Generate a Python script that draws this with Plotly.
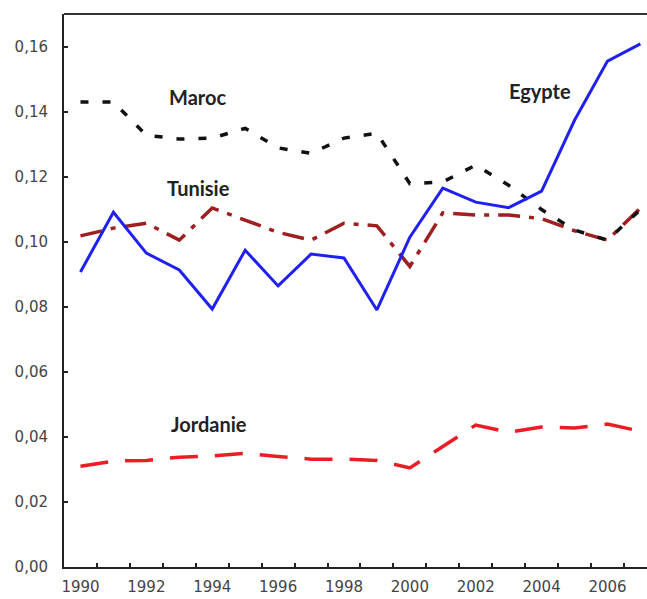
import plotly.graph_objects as go

years = list(range(1990, 2008))
egypte = [0.0908, 0.1092, 0.0966, 0.0914, 0.0794, 0.0975, 0.0865, 0.0963, 0.0951, 0.0791,
          0.1015, 0.1166, 0.1123, 0.1106, 0.1157, 0.1375, 0.1557, 0.1610]
maroc = [0.1431, 0.1431, 0.1329, 0.1317, 0.1320, 0.1350, 0.1290, 0.1273, 0.1320, 0.1335,
         0.1180, 0.1185, 0.1237, 0.1175, 0.1100, 0.1037, 0.1006, 0.1100]
tunisie = [0.1019, 0.1043, 0.1058, 0.1006, 0.1105, 0.1068, 0.1030, 0.1006, 0.1058, 0.1050,
           0.0925, 0.1090, 0.1083, 0.1083, 0.1072, 0.1035, 0.1006, 0.1105]
jordanie = [0.0310, 0.0326, 0.0328, 0.0338, 0.0342, 0.0350, 0.0340, 0.0332, 0.0332, 0.0328,
            0.0305, 0.0370, 0.0437, 0.0415, 0.0431, 0.0428, 0.0440, 0.0418]
y_ticks = [0.00, 0.02, 0.04, 0.06, 0.08, 0.10, 0.12, 0.14, 0.16]
x_ticks = list(range(1990, 2007, 2))

fig = go.Figure()
fig.add_trace(go.Scatter(x=years, y=jordanie, mode="lines", name="Jordanie",
                         line=dict(color="#ec1c24", width=3.5, dash="28px,17px")))
fig.add_trace(go.Scatter(x=years, y=tunisie, mode="lines", name="Tunisie",
                         line=dict(color="#9e1f1f", width=3.5, dash="22px,9px,5px,9px")))
fig.add_trace(go.Scatter(x=years, y=maroc, mode="lines", name="Maroc",
                         line=dict(color="#111111", width=3.5, dash="8px,14px")))
fig.add_trace(go.Scatter(x=years, y=egypte, mode="lines", name="Egypte",
                         line=dict(color="#2020f0", width=3)))

lab_font = dict(family="Lato, Open Sans, sans-serif", size=20, color="#222222")
for txt, xx, yy in [("Maroc", 1993.54, 0.1446), ("Tunisie", 1993.57, 0.1166),
                    ("Egypte", 2003.95, 0.1465), ("Jordanie", 1993.9, 0.0440)]:
    fig.add_annotation(x=xx, y=yy, text="<b>%s</b>" % txt, showarrow=False,
                       font=lab_font, xanchor="center", yanchor="middle")

fig.add_shape(type="line", xref="paper", yref="paper", x0=0, x1=1, y0=1, y1=1,
              line=dict(color="#333333", width=2))

tick_font = dict(family="DejaVu Sans, Verdana, sans-serif", size=15, color="#444444")
fig.update_layout(
    width=647, height=599,
    margin=dict(l=64, r=0, t=14, b=32, autoexpand=False),
    paper_bgcolor="white", plot_bgcolor="white",
    showlegend=False,
    separators=", ",
    xaxis=dict(range=[1989.5, 2007.2], tickmode="array", tickvals=x_ticks,
               ticktext=[str(v) for v in x_ticks], ticks="", showgrid=False,
               zeroline=False, showline=True, linecolor="#222222", linewidth=2,
               tickfont=tick_font, ticklabelstandoff=5, automargin=False,
               minor=dict(tickmode="array", tickvals=[y + 0.5 for y in years],
                          ticks="inside", ticklen=4, tickcolor="#222222", tickwidth=1.5,
                          showgrid=False)),
    yaxis=dict(range=[0, 0.1702], tickmode="array", tickvals=y_ticks,
               tickformat=".2f", ticks="inside", ticklen=4, tickcolor="#222222",
               tickwidth=1.5, showgrid=False, zeroline=False, showline=True,
               linecolor="#222222", linewidth=2, tickfont=tick_font,
               ticklabelstandoff=11, automargin=False),
)

fig.write_html("out.html", config={"displayModeBar": False},
               post_script="document.body.style.margin='0';document.body.style.padding='0';")
